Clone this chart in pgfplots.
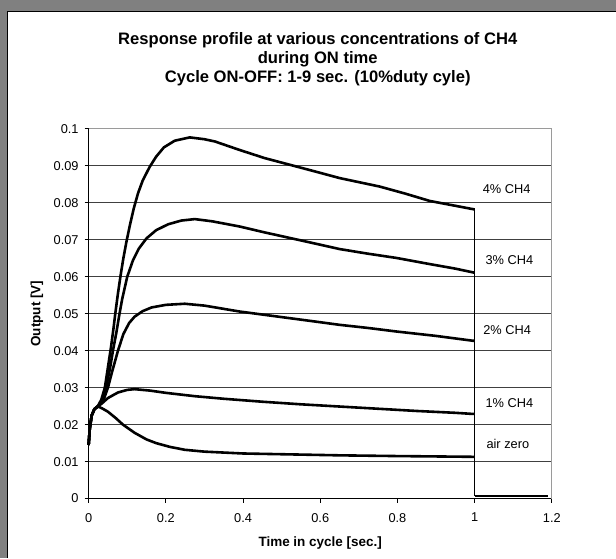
\documentclass[border=0pt]{standalone}
\usepackage{fontspec}
\setmainfont{Liberation Sans}
\usepackage{pgfplots}
\pgfplotsset{compat=1.18}
\definecolor{frame}{RGB}{128,128,128}
\begin{document}
\begin{tikzpicture}
\fill[frame] (0pt,0pt) rectangle (616pt,558pt);
\fill[white] (7.5pt,0pt) rectangle (616pt,546.5pt);
\draw[black, line width=1pt] (7.5pt,0pt) -- (7.5pt,546.5pt) -- (616pt,546.5pt);
\node[font=\bfseries\fontsize{16.6}{19}\selectfont, align=center] at (318pt,498.5pt)
  {Response profile at various concentrations of CH4\\during ON time\\Cycle ON-OFF: 1-9 sec. (10\%duty cyle)};
\begin{axis}[
  at={(88.7pt,59pt)}, anchor=south west,
  scale only axis, width=463.6pt, height=370pt,
  xmin=0, xmax=1.2, ymin=0, ymax=0.1,
  xtick={0,0.2,0.4,0.6,0.8,1,1.2},
  xticklabels={0,0.2,0.4,0.6,0.8,1,1.2},
  ytick={0,0.01,0.02,0.03,0.04,0.05,0.06,0.07,0.08,0.09,0.1},
  yticklabels={0,0.01,0.02,0.03,0.04,0.05,0.06,0.07,0.08,0.09,0.1},
  ymajorgrids,
  major grid style={black!75, line width=0.8pt},
  axis lines*=left,
  axis line style={black, line width=0.9pt, -},
  tick style={black, line width=0.8pt},
  tick align=outside, major tick length=4pt,
  /pgf/number format/assume math mode=true,
  tick label style={font=\fontsize{12.8}{14}\selectfont},
  x tick label style={yshift=-7pt},
  y tick label style={xshift=-2.5pt},
  xlabel={Time in cycle [sec.]},
  ylabel={Output [V]},
  x label style={font=\bfseries\fontsize{13.5}{15}\selectfont, at={(axis description cs:0.5,-0.1189)}, anchor=center},
  y label style={font=\bfseries\fontsize{13.5}{15}\selectfont, at={(axis description cs:-0.1115,0.5)}, anchor=center},
  clip=false,
]
\draw[frame!80, line width=0.8pt] (rel axis cs:0,1) -- (rel axis cs:1,1) -- (rel axis cs:1,0);
% 4% CH4
\addplot[black, mark=none, line width=2.6pt, line join=round] coordinates {
(0,0.0145)(0.003,0.019)(0.008,0.0225)(0.015,0.0242)(0.025,0.0252)(0.033,0.0268)
(0.042,0.030)(0.05,0.0355)(0.058,0.041)(0.065,0.0465)(0.069,0.050)(0.076,0.0555)
(0.083,0.0605)(0.090,0.0650)(0.098,0.0695)(0.107,0.0740)(0.117,0.0785)(0.128,0.0826)
(0.140,0.0860)(0.158,0.0897)(0.175,0.0925)(0.195,0.0950)(0.223,0.0968)(0.262,0.0977)
(0.3,0.0972)(0.327,0.0966)(0.391,0.0943)
(0.456,0.0921)(0.521,0.0903)(0.586,0.0885)(0.65,0.0867)(0.754,0.0844)(0.82,0.0825)
(0.884,0.0805)(0.95,0.0792)(0.995,0.0783)(1.0,0.0782)};
% 3% CH4
\addplot[black, mark=none, line width=2.6pt, line join=round] coordinates {
(0,0.0145)(0.003,0.019)(0.008,0.0225)(0.015,0.0242)(0.025,0.0251)(0.035,0.0265)
(0.045,0.030)(0.055,0.035)(0.063,0.040)(0.072,0.045)(0.080,0.050)(0.087,0.054)
(0.100,0.060)(0.115,0.0645)(0.13,0.0676)(0.150,0.0704)(0.175,0.0726)(0.206,0.0742)
(0.24,0.0752)(0.275,0.0756)(0.32,0.0750)(0.391,0.0736)(0.456,0.0720)(0.521,0.0705)
(0.586,0.0690)(0.65,0.0675)(0.72,0.0663)(0.797,0.0651)(0.88,0.0635)(0.95,0.0622)
(0.995,0.0612)(1.0,0.0611)};
% 2% CH4
\addplot[black, mark=none, line width=2.6pt, line join=round] coordinates {
(0,0.0145)(0.003,0.019)(0.008,0.0225)(0.015,0.0242)(0.025,0.0250)(0.038,0.0265)
(0.05,0.030)(0.06,0.034)(0.076,0.040)(0.09,0.0445)(0.105,0.0475)(0.119,0.0492)
(0.14,0.0507)(0.163,0.0517)(0.2,0.0524)(0.249,0.0527)(0.3,0.0522)(0.391,0.0506)
(0.456,0.0497)(0.521,0.0488)(0.586,0.0479)(0.65,0.0470)(0.72,0.0462)(0.797,0.0452)
(0.9,0.0440)(0.995,0.0427)(1.0,0.0427)};
% 1% CH4
\addplot[black, mark=none, line width=2.6pt, line join=round] coordinates {
(0,0.0145)(0.003,0.019)(0.008,0.0225)(0.015,0.0242)(0.025,0.0250)(0.035,0.0258)
(0.05,0.0272)(0.076,0.0287)(0.1,0.0294)(0.119,0.0296)(0.16,0.0292)(0.2,0.0286)
(0.275,0.0277)(0.35,0.0270)(0.45,0.0262)(0.55,0.0255)(0.65,0.0249)(0.75,0.0243)
(0.85,0.0237)(0.95,0.0232)(0.995,0.0229)(1.0,0.0229)};
% air zero
\addplot[black, mark=none, line width=2.6pt, line join=round] coordinates {
(0,0.0145)(0.003,0.019)(0.008,0.0225)(0.015,0.0242)(0.025,0.0249)(0.035,0.0244)
(0.05,0.0235)(0.07,0.0218)(0.089,0.0200)(0.119,0.0178)(0.15,0.0160)(0.175,0.0150)
(0.21,0.0140)(0.249,0.0132)(0.3,0.0127)(0.4,0.0122)(0.5,0.0120)(0.65,0.0117)
(0.8,0.0115)(0.9,0.0114)(0.995,0.0113)(1.0,0.0113)};
% OFF period
\addplot[black, mark=none, line width=1.1pt] coordinates {(1.0,0.0782)(1.0,0.0006)};
\addplot[black, mark=none, line width=2.2pt] coordinates {(1.0,0.0006)(1.19,0.0006)};
\node[font=\fontsize{12.8}{14}\selectfont] at (axis cs:1.083,0.0837) {4\% CH4};
\node[font=\fontsize{12.8}{14}\selectfont] at (axis cs:1.09,0.0646) {3\% CH4};
\node[font=\fontsize{12.8}{14}\selectfont] at (axis cs:1.084,0.0457) {2\% CH4};
\node[font=\fontsize{12.8}{14}\selectfont] at (axis cs:1.09,0.0259) {1\% CH4};
\node[font=\fontsize{12.8}{14}\selectfont] at (axis cs:1.086,0.0149) {air zero};
\end{axis}
\end{tikzpicture}
\end{document}
